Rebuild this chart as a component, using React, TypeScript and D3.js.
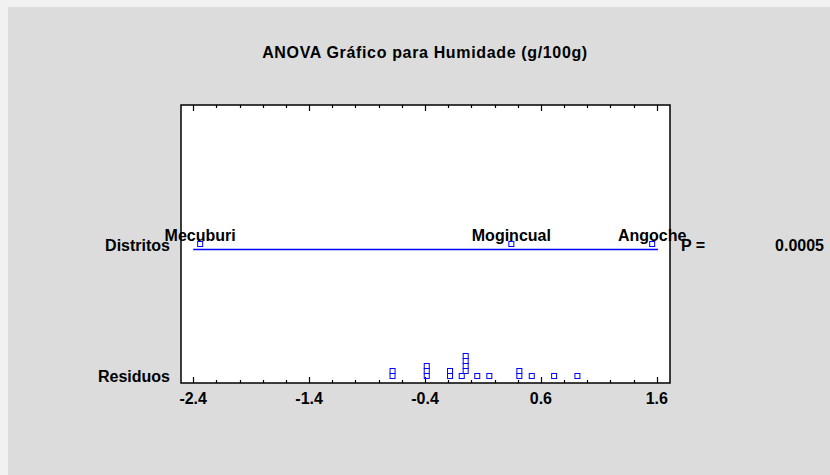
import React from "react";
import * as d3 from "d3";

// group means (Distritos)
const groups = ["Mecuburi", "Mogincual", "Angoche"];
const groupMeans = [-2.34, 0.345, 1.56];
const meanLine = [-2.4, 1.61];

// residuals
const residuals = [
  -0.68, -0.68,
  -0.385, -0.385, -0.385,
  -0.184, -0.184,
  -0.083,
  -0.049, -0.049, -0.049, -0.049,
  0.051, 0.155,
  0.414, 0.414,
  0.521, 0.714, 0.915,
];

const majorTicks = [-2.4, -1.4, -0.4, 0.6, 1.6];
const minorTicks = d3.range(-2.4, 1.61, 0.2);
const rows = ["Distritos", "Residuos"];
const pValue = "0.0005";

const W = 830, H = 475;
const box = { left: 181, right: 670, top: 105, bottom: 383 };
const font = "'Liberation Sans', Arial, sans-serif";
const blue = "#0000ff";
const sq = 5;

const App = () => {
  const x = d3.scaleLinear().domain([-2.5, 1.7]).range([box.left + 0.6, box.right - 1.6]);
  const rowY = d3.scalePoint().domain(rows).range([249, 383]);

  // stack residual squares so they don't overlap
  const placed: { v: number; px: number; level: number }[] = [];
  [...residuals].sort((a, b) => a - b).forEach(v => {
    const px = x(v);
    let level = 0;
    while (placed.some(p => p.level === level && Math.abs(p.px - px) < sq)) level++;
    placed.push({ v, px, level });
  });

  const yDist = rowY("Distritos")!;
  const yRes = rowY("Residuos")!;
  const txt = { fontFamily: font, fontWeight: "bold", fontSize: 16, fill: "#000" } as const;

  return (
    <svg width={W} height={H} style={{ position: "absolute", left: 0, top: 0 }}>
      <rect x={0} y={0} width={W} height={H} fill="#f1f1f1" />
      <rect x={8} y={7} width={W - 8} height={H - 7} fill="#dcdcdc" />
      <text x={425} y={58} textAnchor="middle" {...txt} letterSpacing={0.65}>
        ANOVA Gráfico para Humidade (g/100g)
      </text>

      <rect x={box.left} y={box.top} width={box.right - box.left} height={box.bottom - box.top}
        fill="#fff" stroke="#000" strokeWidth={1.5} />

      {minorTicks.map((t, i) => {
        const major = majorTicks.some(m => Math.abs(m - t) < 1e-6);
        const len = major ? 6 : 3;
        const px = Math.round(x(t)) + 0.5;
        return (
          <g key={i} stroke="#000" strokeWidth={1.2}>
            <line x1={px} x2={px} y1={box.top} y2={box.top + len} />
            <line x1={px} x2={px} y1={box.bottom} y2={box.bottom - len} />
          </g>
        );
      })}
      {majorTicks.map(t => (
        <text key={t} x={x(t)} y={404} textAnchor="middle" {...txt}>
          {t.toFixed(1)}
        </text>
      ))}

      {rows.map(r => (
        <text key={r} x={170} y={r === "Distritos" ? 251 : 382} textAnchor="end" {...txt}>
          {r}
        </text>
      ))}

      <line x1={x(meanLine[0])} x2={x(meanLine[1])} y1={yDist + 0.5} y2={yDist + 0.5} stroke={blue} strokeWidth={1.3} />
      {groups.map((g, i) => (
        <g key={g}>
          <rect x={x(groupMeans[i]) - sq / 2} y={yDist - 7.5} width={sq} height={sq} fill="none" stroke={blue} strokeWidth={1} />
          <text x={x(groupMeans[i])} y={yDist - 8.5} textAnchor="middle" {...txt}>
            {g}
          </text>
        </g>
      ))}

      {placed.map((p, i) => (
        <rect key={i} x={p.px - sq / 2} y={yRes - 9.5 - p.level * sq} width={sq} height={sq}
          fill="none" stroke={blue} strokeWidth={1} />
      ))}

      <text x={681} y={251} {...txt}>P =</text>
      <text x={824} y={251} textAnchor="end" {...txt}>{pValue}</text>
    </svg>
  );
};

export default App;
